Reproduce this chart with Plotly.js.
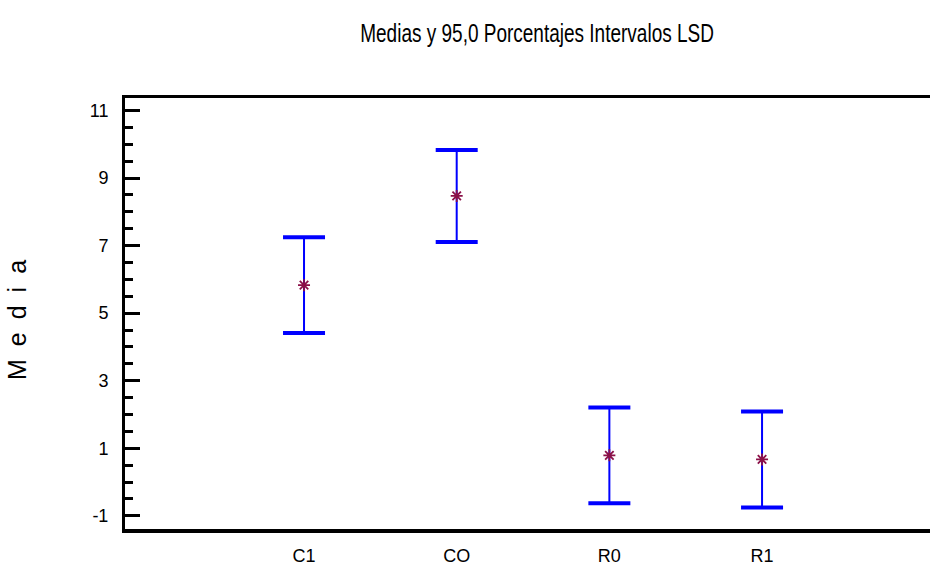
<!DOCTYPE html>
<html>
<head>
<meta charset="utf-8">
<script src="https://cdn.plot.ly/plotly-3.0.1.min.js"></script>
<style>
  html, body { margin: 0; padding: 0; background: #fff; overflow: hidden; }
  #chart { width: 930px; height: 568px; }
  .ytitle { letter-spacing: 13px; }
  .gtitle { transform-box: fill-box; transform-origin: center; transform: scaleY(1.4); }
</style>
</head>
<body>
<div id="chart"></div>
<script>
// Data
const categories = ["C1", "CO", "R0", "R1"];
const means = [5.83, 8.47, 0.79, 0.67];
const lsdHalf = [1.42, 1.36, 1.42, 1.42];
const yTickVals = [-1, 1, 3, 5, 7, 9, 11];
const yTickText = ["-1", "1", "3", "5", "7", "9", "11"];

const upper = means.map((m, i) => m + lsdHalf[i]);
const lower = means.map((m, i) => m - lsdHalf[i]);

const sans = "'Liberation Sans', Arial, sans-serif";

const traces = [
  {
    type: "scatter", mode: "markers",
    x: categories, y: means,
    error_y: { type: "data", array: lsdHalf, visible: true, color: "#0000FF", thickness: 2, width: 15 },
    marker: { symbol: "asterisk-open", size: 10, color: "#8B1048", line: { color: "#8B1048", width: 1.8 } },
    hoverinfo: "skip", showlegend: false
  },
  {
    type: "scatter", mode: "markers",
    x: categories.concat(categories), y: upper.concat(lower),
    marker: { symbol: "line-ew", size: 30, color: "#0000FF", line: { color: "#0000FF", width: 4 } },
    hoverinfo: "skip", showlegend: false
  }
];

const layout = {
  width: 930, height: 568,
  margin: { l: 125, r: 0, t: 98, b: 39, pad: 0 },
  paper_bgcolor: "#ffffff", plot_bgcolor: "#ffffff",
  showlegend: false,
  title: {
    text: "Medias y 95,0 Porcentajes Intervalos LSD",
    font: { family: sans, size: 19, color: "#000" },
    xref: "container", yref: "container",
    x: 0.5775, xanchor: "center", y: 0.942, yanchor: "middle"
  },
  xaxis: {
    type: "category",
    range: [-1.1725, 4.1],
    showgrid: false, zeroline: false,
    showline: true, linecolor: "#000", linewidth: 3.5, mirror: true,
    ticks: "", tickfont: { family: sans, size: 18, color: "#000" },
    ticklabelstandoff: 8,
    fixedrange: true
  },
  yaxis: {
    range: [-1.39, 11.37],
    tickmode: "array", tickvals: yTickVals, ticktext: yTickText,
    showgrid: false, zeroline: false,
    showline: true, linecolor: "#000", linewidth: 3,
    ticks: "inside", ticklen: 15, tickwidth: 3, tickcolor: "#000",
    minor: { dtick: 0.5, tick0: -1, ticks: "inside", ticklen: 8, tickwidth: 3, tickcolor: "#000", showgrid: false },
    tickfont: { family: sans, size: 18, color: "#000" },
    ticklabelstandoff: 10,
    title: { text: "Media", font: { family: sans, size: 25, color: "#000" }, standoff: 56 },
    fixedrange: true
  },
  yaxis2: {
    overlaying: "y", side: "right",
    range: [-1.39, 11.37],
    tickmode: "array", tickvals: yTickVals,
    showticklabels: false, showgrid: false, zeroline: false, showline: false,
    ticks: "inside", ticklen: 7, tickwidth: 3, tickcolor: "#000",
    fixedrange: true
  }
};

Plotly.newPlot("chart", traces, layout, { displayModeBar: false, staticPlot: true });
</script>
</body>
</html>
